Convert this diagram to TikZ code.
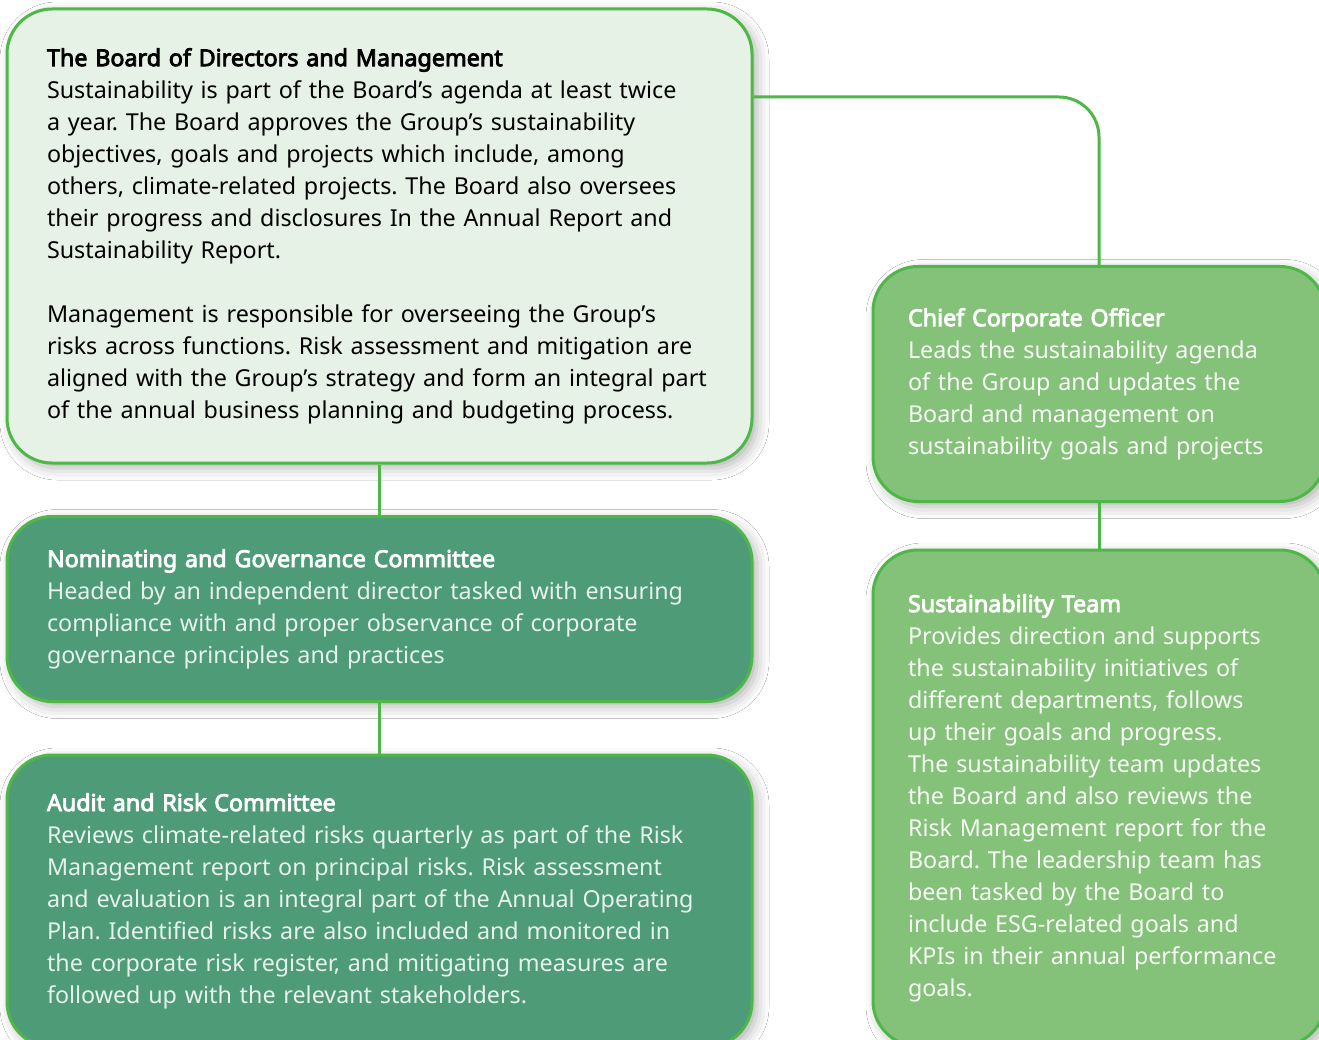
\documentclass[tikz,border=0pt]{standalone}
\usepackage{fontspec}
\setmainfont{Noto Sans}[AutoFakeBold=3.6]
\usepackage{tikz}
\usetikzlibrary{calc, shadows.blur}
\definecolor{edge}{RGB}{77, 184, 72}
\definecolor{pale}{RGB}{231, 242, 230}
\definecolor{teal}{RGB}{78, 155, 120}
\definecolor{leaf}{RGB}{133, 194, 121}
\definecolor{softw}{RGB}{232, 242, 236}
\frenchspacing

\tikzset{
  card/.style={draw=edge, line width=3, rounded corners=45, align=left,
    inner xsep=40, inner ysep=0, anchor=center,
    font=\fontsize{23.3}{32}\selectfont,
    blur shadow={shadow xshift=5pt, shadow yshift=-5pt, shadow blur radius=12pt, shadow opacity=30}},
  link/.style={draw=edge, line width=3}
}

\begin{document}
\begin{tikzpicture}[x=1pt, y=-1pt]
  \useasboundingbox[fill=white] (0, 0) rectangle (1319, 1040);

  \node[card, fill=pale, text=black, minimum width=745, minimum height=454, text width=665]
    (board) at (379.5, 236) {\textbf{The Board of Directors and Management}\\
    Sustainability is part of the Board’s agenda at least twice\\
    a year. The Board approves the Group’s sustainability\\
    objectives, goals and projects which include, among\\
    others, climate-related projects. The Board also oversees\\
    their progress and disclosures In the Annual Report and\\
    Sustainability Report.\\[32pt]
    Management is responsible for overseeing the Group’s\\
    risks across functions. Risk assessment and mitigation are\\
    aligned with the Group’s strategy and form an integral part\\
    of the annual business planning and budgeting process.};

  \node[card, fill=teal, text=softw, minimum width=745, minimum height=185, text width=665]
    (nomgov) at (379.5, 609) {\textcolor{white}{\textbf{Nominating and Governance Committee}}\\
    Headed by an independent director tasked with ensuring\\
    compliance with and proper observance of corporate\\
    governance principles and practices};

  \node[card, fill=teal, text=softw, minimum width=745, minimum height=292, text width=665]
    (audit) at (379.5, 901) {\textcolor{white}{\textbf{Audit and Risk Committee}}\\
    Reviews climate-related risks quarterly as part of the Risk\\
    Management report on principal risks. Risk assessment\\
    and evaluation is an integral part of the Annual Operating\\
    Plan. Identified risks are also included and monitored in\\
    the corporate risk register, and mitigating measures are\\
    followed up with the relevant stakeholders.};

  \node[card, fill=leaf, text=white!94!leaf, inner xsep=35, minimum width=452, minimum height=235, text width=382]
    (cco) at (1099, 384) {\textcolor{white}{\textbf{Chief Corporate Officer}}\\
    Leads the sustainability agenda\\
    of the Group and updates the\\
    Board and management on\\
    sustainability goals and projects};

  \node[card, fill=leaf, text=white!94!leaf, inner xsep=35, minimum width=452, minimum height=496, text width=382]
    (team) at (1099, 798) {\textcolor{white}{\textbf{Sustainability Team}}\\
    Provides direction and supports\\
    the sustainability initiatives of\\
    different departments, follows\\
    up their goals and progress.\\
    The sustainability team updates\\
    the Board and also reviews the\\
    Risk Management report for the\\
    Board. The leadership team has\\
    been tasked by the Board to\\
    include ESG-related goals and\\
    KPIs in their annual performance\\
    goals.};

  % connectors
  \coordinate (tap) at (board.east |- 0, 97);
  \draw[link, rounded corners=40] (tap) -| (cco.north);
  \draw[link] (board.south) -- (nomgov.north);
  \draw[link] (nomgov.south) -- (audit.north);
  \draw[link] (cco.south) -- (team.north);
\end{tikzpicture}
\end{document}
